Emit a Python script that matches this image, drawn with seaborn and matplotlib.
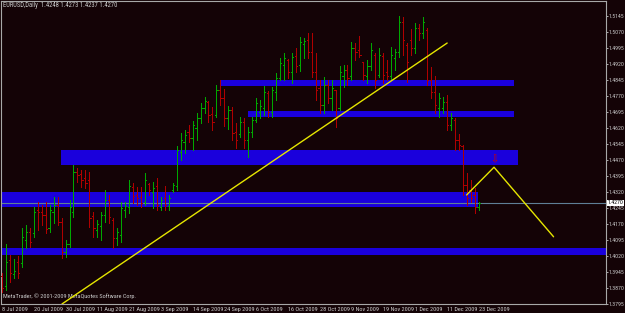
import matplotlib
matplotlib.use("Agg")
import matplotlib.pyplot as plt
import matplotlib.transforms as mtransforms
from matplotlib.patches import Rectangle
from matplotlib import font_manager
import seaborn as sns
import pandas as pd

# ---------------- data (EURUSD daily, 8 Jul 2009 - 23 Dec 2009) ----------------
opens = [1.3926, 1.3879, 1.4001, 1.3936, 1.3992, 1.3987, 1.4095, 1.4133, 1.4128, 1.4236,
         1.4226, 1.4212, 1.4151, 1.4226, 1.4259, 1.4179, 1.4039, 1.4076, 1.4226, 1.4414,
         1.4404, 1.4386, 1.4376, 1.4208, 1.4142, 1.4161, 1.4212, 1.4283, 1.4189, 1.4104,
         1.4118, 1.4236, 1.4250, 1.4343, 1.4306, 1.4297, 1.4273, 1.4358, 1.4320, 1.4348,
         1.4250, 1.4292, 1.4254, 1.4329, 1.4348, 1.4508, 1.4554, 1.4601, 1.4573, 1.4620,
         1.4667, 1.4714, 1.4742, 1.4686, 1.4681, 1.4798, 1.4761, 1.4667, 1.4704, 1.4601,
         1.4592, 1.4648, 1.4564, 1.4601, 1.4658, 1.4695, 1.4714, 1.4784, 1.4695, 1.4789,
         1.4854, 1.4915, 1.4939, 1.4883, 1.4958, 1.4915, 1.5014, 1.5033, 1.4976, 1.4883,
         1.4808, 1.4728, 1.4822, 1.4761, 1.4798, 1.4714, 1.4864, 1.4892, 1.4864, 1.4995,
         1.4986, 1.4929, 1.4864, 1.4911, 1.4962, 1.4868, 1.4958, 1.4883, 1.4864, 1.4948,
         1.4976, 1.5117, 1.5009, 1.5033, 1.4995, 1.5089, 1.5065, 1.5079, 1.4845, 1.4789,
         1.4714, 1.4714, 1.4742, 1.4634, 1.4658, 1.4564, 1.4536, 1.4353, 1.4329, 1.4306,
         1.4248]
highs = [1.3940, 1.4076, 1.4025, 1.4006, 1.4020, 1.4151, 1.4165, 1.4151, 1.4250, 1.4273,
         1.4259, 1.4273, 1.4259, 1.4297, 1.4297, 1.4198, 1.4095, 1.4283, 1.4447, 1.4432,
         1.4423, 1.4423, 1.4414, 1.4226, 1.4189, 1.4226, 1.4329, 1.4306, 1.4198, 1.4151,
         1.4273, 1.4273, 1.4376, 1.4362, 1.4343, 1.4343, 1.4409, 1.4362, 1.4367, 1.4386,
         1.4297, 1.4348, 1.4306, 1.4362, 1.4536, 1.4597, 1.4611, 1.4634, 1.4653, 1.4690,
         1.4737, 1.4765, 1.4747, 1.4718, 1.4822, 1.4845, 1.4803, 1.4723, 1.4718, 1.4643,
         1.4672, 1.4667, 1.4625, 1.4672, 1.4761, 1.4751, 1.4817, 1.4793, 1.4812, 1.4878,
         1.4948, 1.4972, 1.4943, 1.4972, 1.4995, 1.5047, 1.5042, 1.5065, 1.5065, 1.4972,
         1.4845, 1.4859, 1.4845, 1.4845, 1.4798, 1.4911, 1.4915, 1.4915, 1.5023, 1.5018,
         1.5051, 1.4929, 1.4939, 1.5018, 1.4972, 1.4995, 1.4972, 1.4939, 1.5000, 1.4990,
         1.5145, 1.5140, 1.5018, 1.5084, 1.5112, 1.5108, 1.5140, 1.5089, 1.4906, 1.4864,
         1.4784, 1.4765, 1.4775, 1.4690, 1.4667, 1.4592, 1.4540, 1.4409, 1.4376, 1.4339,
         1.4273]
lows = [1.3851, 1.3861, 1.3898, 1.3917, 1.3917, 1.3968, 1.4058, 1.4062, 1.4109, 1.4142,
        1.4165, 1.4128, 1.4133, 1.4175, 1.4165, 1.4011, 1.4015, 1.4062, 1.4203, 1.4367,
        1.4343, 1.4339, 1.4156, 1.4109, 1.4109, 1.4095, 1.4179, 1.4175, 1.4058, 1.4072,
        1.4086, 1.4203, 1.4222, 1.4268, 1.4259, 1.4250, 1.4259, 1.4306, 1.4245, 1.4236,
        1.4236, 1.4236, 1.4236, 1.4320, 1.4329, 1.4470, 1.4503, 1.4554, 1.4517, 1.4564,
        1.4643, 1.4690, 1.4648, 1.4611, 1.4672, 1.4728, 1.4629, 1.4615, 1.4564, 1.4526,
        1.4578, 1.4526, 1.4484, 1.4578, 1.4648, 1.4667, 1.4681, 1.4672, 1.4672, 1.4751,
        1.4845, 1.4845, 1.4854, 1.4831, 1.4883, 1.4887, 1.4948, 1.4948, 1.4859, 1.4751,
        1.4690, 1.4690, 1.4737, 1.4704, 1.4625, 1.4704, 1.4812, 1.4822, 1.4845, 1.4939,
        1.4953, 1.4845, 1.4831, 1.4892, 1.4808, 1.4859, 1.4831, 1.4845, 1.4845, 1.4892,
        1.4953, 1.4962, 1.4836, 1.4962, 1.4972, 1.5033, 1.5042, 1.4822, 1.4761, 1.4690,
        1.4672, 1.4690, 1.4611, 1.4611, 1.4517, 1.4517, 1.4306, 1.4259, 1.4273, 1.4222,
        1.4237]
closes = [1.3870, 1.3992, 1.3940, 1.3950, 1.3940, 1.4109, 1.4133, 1.4086, 1.4226, 1.4226,
          1.4212, 1.4147, 1.4236, 1.4259, 1.4179, 1.4039, 1.4076, 1.4250, 1.4414, 1.4400,
          1.4376, 1.4362, 1.4198, 1.4151, 1.4170, 1.4212, 1.4283, 1.4203, 1.4104, 1.4133,
          1.4245, 1.4254, 1.4348, 1.4301, 1.4292, 1.4268, 1.4376, 1.4329, 1.4339, 1.4259,
          1.4283, 1.4259, 1.4292, 1.4353, 1.4517, 1.4564, 1.4587, 1.4573, 1.4634, 1.4667,
          1.4714, 1.4747, 1.4681, 1.4648, 1.4798, 1.4761, 1.4667, 1.4704, 1.4597, 1.4564,
          1.4648, 1.4564, 1.4601, 1.4658, 1.4737, 1.4723, 1.4789, 1.4695, 1.4798, 1.4854,
          1.4925, 1.4948, 1.4883, 1.4953, 1.4911, 1.5023, 1.5028, 1.4976, 1.4883, 1.4798,
          1.4728, 1.4822, 1.4761, 1.4808, 1.4667, 1.4883, 1.4892, 1.4854, 1.4995, 1.4976,
          1.4962, 1.4868, 1.4911, 1.4986, 1.4845, 1.4962, 1.4868, 1.4864, 1.4962, 1.4976,
          1.5117, 1.5033, 1.4929, 1.4995, 1.5089, 1.5065, 1.5117, 1.4845, 1.4789, 1.4728,
          1.4761, 1.4742, 1.4634, 1.4667, 1.4564, 1.4540, 1.4353, 1.4292, 1.4292, 1.4250,
          1.4270]

date_labels = ["8 Jul 2009", "20 Jul 2009", "30 Jul 2009", "11 Aug 2009", "21 Aug 2009",
               "3 Sep 2009", "14 Sep 2009", "24 Sep 2009", "6 Oct 2009", "16 Oct 2009",
               "28 Oct 2009", "9 Nov 2009", "19 Nov 2009", "1 Dec 2009", "11 Dec 2009",
               "23 Dec 2009"]
date_label_bars = [0, 8, 16, 24, 32, 40, 48, 56, 64, 72, 80, 88, 96, 104, 112, 120]
price_ticks = [1.5145, 1.5070, 1.4995, 1.4920, 1.4845, 1.4770, 1.4695, 1.4620, 1.4545,
               1.4470, 1.4395, 1.4320, 1.4245, 1.4170, 1.4095, 1.4020, 1.3945, 1.3870,
               1.3795]

# support / resistance zones: bar start, bar end, low price, high price
zone_start = [54.9, 62.0, 14.9, -0.5, -0.5]
zone_end = [129.0, 129.0, 130.0, 119.9, 153.0]
zone_low = [1.4817, 1.4672, 1.4447, 1.4250, 1.4025]
zone_high = [1.4845, 1.4700, 1.4517, 1.4320, 1.4058]

# trend lines
trend1_bar = [15.1, 112.1]
trend1_price = [1.3795, 1.5018]
trend2_bar = [117.0, 123.9, 138.9]
trend2_price = [1.4306, 1.4436, 1.4110]
arrow_bar, arrow_price = 124.0, 1.4472

symbol_header = "EURUSD,Daily  1.4248 1.4273 1.4237 1.4270"
last_price = 1.4270
copyright_text = "MetaTrader, \u00a9 2001-2009 MetaQuotes Software Corp."

# ---------------- style ----------------
BG = "#140306"
FG = "#C8C8C8"
FRAME = "#A8A8A8"
UP = "#00A800"
DOWN = "#B00000"
ZONE = "#1A00DC"
YELLOW = "#E6E600"
PRICE_LINE = "#5F7F96"

sns.set_theme(style="dark")

# pick a narrow font if one is installed
narrow = None
names = sorted({f.name for f in font_manager.fontManager.ttflist})
for pref in ["Liberation Sans Narrow", "Roboto Condensed", "DejaVu Sans Condensed",
             "Open Sans Condensed", "Noto Sans Condensed"]:
    if pref in names:
        narrow = pref
        break
if narrow is None:
    cands = [n for n in names if ("Narrow" in n or "Condensed" in n)]
    if cands:
        narrow = cands[0]
if narrow is not None:
    FONT = [narrow, "DejaVu Sans"]
    FS = 4.5
else:
    FONT = ["Liberation Sans", "DejaVu Sans"]
    FS = 3.8
plt.rcParams["font.family"] = FONT

fig = plt.figure(figsize=(6.25, 3.13), dpi=100, facecolor=BG)
W, H = 625, 313
ax = fig.add_axes([1 / W, 9 / H, 605 / W, 303 / H])
ax.set_facecolor(BG)

df = pd.DataFrame({"open": opens, "high": highs, "low": lows, "close": closes})
df["bar"] = range(len(df))
df["up"] = df["close"] >= df["open"]
colors = [UP if u else DOWN for u in df["up"]]

# zones
for xs, xe, lo, hi in zip(zone_start, zone_end, zone_low, zone_high):
    ax.add_patch(Rectangle((xs, lo), xe - xs, hi - lo, facecolor=ZONE,
                           edgecolor="none", zorder=1))

# bars
LW = 0.72
ax.vlines(df["bar"], df["low"], df["high"], colors=colors, linewidth=LW, zorder=3,
          antialiased=False)
ax.hlines(df["open"], df["bar"] - 0.3, df["bar"], colors=colors, linewidth=LW, zorder=3,
          antialiased=False)
ax.hlines(df["close"], df["bar"], df["bar"] + 0.3, colors=colors, linewidth=LW, zorder=3,
          antialiased=False)

# current price line
ax.axhline(last_price, color=PRICE_LINE, linewidth=0.8, zorder=2)

# trend lines (seaborn)
sns.lineplot(x=trend1_bar, y=trend1_price, ax=ax, color=YELLOW, linewidth=1.0,
             zorder=4, legend=False)
sns.lineplot(x=trend2_bar, y=trend2_price, ax=ax, color=YELLOW, linewidth=1.0,
             zorder=4, legend=False, sort=False)
ax.text(arrow_bar, arrow_price, "\u21e9", color="#D00000", fontsize=7,
        ha="center", va="center", family=["DejaVu Sans"], zorder=5)

ax.set_xlim(-0.25, 152.1)
ax.set_ylim(1.3795, 1.5215)

# axes frame
for s in ax.spines.values():
    s.set_visible(True)
    s.set_color(FRAME)
    s.set_linewidth(0.8)

# y ticks on right
ax.yaxis.tick_right()
ax.set_yticks(price_ticks)
ax.set_yticklabels([f"{p:.4f}" for p in price_ticks])
ax.tick_params(axis="y", colors=FG, labelsize=FS * 0.92, length=1.5, width=0.6, pad=0.5,
               direction="out", right=True, left=False, labelcolor=FG)
# x ticks
ax.set_xticks(date_label_bars)
ax.set_xticklabels(date_labels)
ax.tick_params(axis="x", colors=FG, labelsize=FS, length=2, width=0.6, pad=0.3,
               direction="out", labelcolor=FG)
for lab in ax.get_xticklabels():
    lab.set_horizontalalignment("left")
ax.grid(False)
ax.set_xlabel("")
ax.set_ylabel("")

# texts
ax.text(0.004, 0.985, symbol_header, transform=ax.transAxes, color=FG,
        fontsize=FS * 1.05, ha="left", va="center")
ax.text(0.004, 0.026, copyright_text, transform=ax.transAxes, color=FG,
        fontsize=FS, ha="left", va="center")
trans = mtransforms.blended_transform_factory(ax.transAxes, ax.transData)
ax.text(1.003, last_price, f"{last_price:.4f}", transform=trans, color="black",
        fontsize=FS * 0.92, ha="left", va="center",
        bbox=dict(facecolor="white", edgecolor="none", pad=0.3), zorder=10)

fig.savefig("out.png", dpi=100, facecolor=BG)
